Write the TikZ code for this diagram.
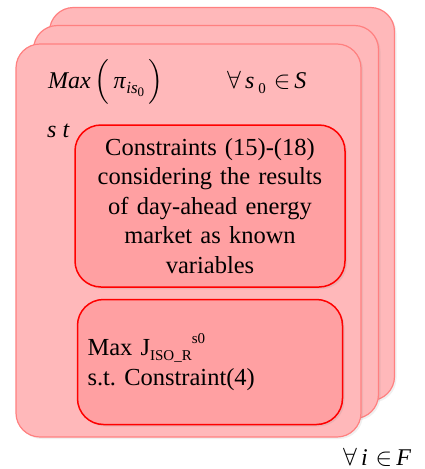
\documentclass[tikz,border=0pt]{standalone}
\usepackage{amsmath}
\usepackage{fontspec}
\setmainfont{Liberation Serif}
\usetikzlibrary{positioning, shadows}

\definecolor{cardfill}{RGB}{255,184,186}
\definecolor{cardline}{RGB}{255,128,128}
\definecolor{boxfill}{RGB}{255,160,162}
\definecolor{boxline}{RGB}{255,0,0}

\newcommand{\sbx}[3]{\raisebox{#1}{\fontsize{#2}{#2}\selectfont #3}}

\begin{document}
\begin{tikzpicture}[x=1pt, y=-1pt,
  card/.style={draw=cardline, fill=cardfill, line width=1.2pt, rounded corners=24pt, minimum width=345pt, minimum height=393pt, inner sep=0pt, drop shadow={opacity=0.12, shadow xshift=2pt, shadow yshift=-2pt}},
  innerbox/.style={draw=boxline, fill=boxfill, line width=1.5pt, rounded corners=26pt, inner sep=10pt, font=\fontsize{24.5}{29.5}\selectfont, drop shadow={opacity=0.15, shadow xshift=2pt, shadow yshift=-2pt}},
  mathlabel/.style={inner sep=0pt, anchor=base west, font=\fontsize{24}{29}\selectfont}]

  \useasboundingbox (0,0) rectangle (425,469);

  % stacked cards, back to front
  \node [card] (cardC) at (222,204) {};
  \node [card] (cardB) at (206,222) {};
  \node [card] (cardA) at (188.5,240.5) {};

  \node [mathlabel] (obj) at (48,88) {\textit{Max}\,$\Big($\,\textit{π}\sbx{-5pt}{17}{\textit{is}\sbx{-3pt}{13}{0}}\,$\Big)$};
  \node [mathlabel] (scen) at (227,88) {$\forall$\,\textit{s}\,\sbx{-5pt}{15}{0}\,\,$\in$\,\textit{S}};
  \node [mathlabel] (st) at (47,137) {\textit{s t}};

  \node [innerbox, minimum width=270pt, minimum height=162pt, text width=250pt, align=center] (cons) at (210,206) {Constraints (15)-(18)\\considering the results\\of day-ahead energy\\market as known\\variables};
  \node [innerbox, below=11pt of cons, minimum width=265pt, minimum height=125pt, text width=245pt, align=left] (isobox) {Max J\sbx{-5pt}{15}{ISO\_R}\sbx{12pt}{15}{s0}\\s.t.\ Constraint(4)};

  \node [mathlabel] (allF) at (343,465) {$\forall$\,\textit{i}\,\,$\in$\,\textit{F}};
\end{tikzpicture}
\end{document}
